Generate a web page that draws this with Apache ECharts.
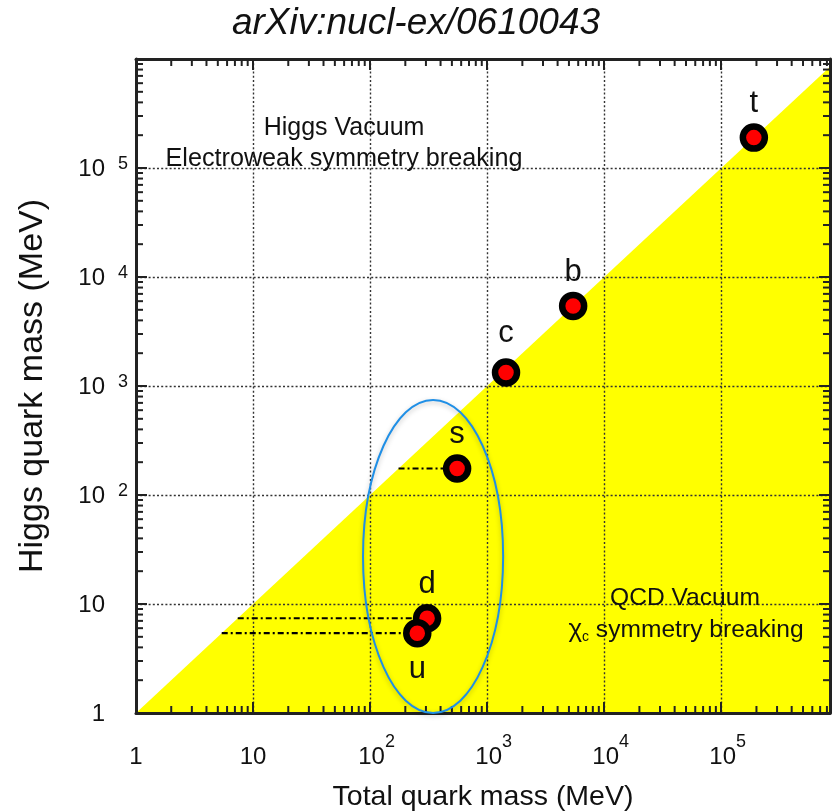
<!DOCTYPE html>
<html>
<head>
<meta charset="utf-8">
<script src="https://cdn.jsdelivr.net/npm/echarts@6/dist/echarts.min.js"></script>
<style>
  html, body { margin: 0; padding: 0; background: #ffffff; }
  #chart { width: 832px; height: 811px; }
</style>
</head>
<body>
<div id="chart"></div>
<script>
// Quark masses in MeV: total mass against the share generated by the Higgs field
const quarkNames = ['t', 'b', 'c', 's', 'd', 'u'];
const totalMass  = [190000, 5430, 1450, 554, 307, 253];
const higgsMass  = [190000, 5430, 1330, 175, 7.4, 5.4];
const labelSide  = ['top', 'top', 'top', 'top', 'top', 'bottom'];

// light quarks get a dash-dot guide from the diagonal out to the point
const guideQuarks = ['s', 'd', 'u'];

// axis extents (log scale)
const xRange = [1, 850000];
const yRange = [1, 1000000];
const minorMultipliers = [2, 3, 4, 5, 6, 7, 8, 9];

// the loop around the light quarks, as a data-space box
const lightQuarkBox = { x: [87, 1370], y: [1, 745] };

const FONT = "'Liberation Sans', Arial, Helvetica, sans-serif";
const INK = '#111111';

function minorValues(range) {
  const out = [];
  for (let p = 1; p <= range[1]; p *= 10) {
    minorMultipliers.forEach(function (m) {
      const v = m * p;
      if (v > range[0] && v < range[1]) out.push(v);
    });
  }
  return out;
}
const minorX = minorValues(xRange);
const minorY = minorValues(yRange);

function isDecade(v) {
  const l = Math.log10(v);
  return Math.abs(l - Math.round(l)) < 1e-6;
}
function powerOf(v) { return Math.round(Math.log10(v)); }

// tick labels: "10" with a raised exponent
const xLabelRich = {
  b: { fontFamily: FONT, fontSize: 24, color: INK, lineHeight: 36, verticalAlign: 'bottom' },
  s: { fontFamily: FONT, fontSize: 18, color: INK, lineHeight: 4, verticalAlign: 'top', align: 'left' },
  p: { width: 13 }
};
const yLabelRich = {
  b: { fontFamily: FONT, fontSize: 24, color: INK, lineHeight: 26, verticalAlign: 'bottom' },
  q: { fontFamily: FONT, fontSize: 18, color: INK, lineHeight: 6, verticalAlign: 'top',
       width: 10, padding: [0, 0, 0, 13], align: 'left' }
};

const TICK_MAJOR = 11;
const TICK_MINOR = 7;
const axisLine = { show: true, lineStyle: { color: '#222', width: 3 } };
const axisTick = { show: true, inside: true, length: TICK_MAJOR, lineStyle: { color: '#222', width: 2 } };
const gridDots = { show: true, lineStyle: { color: '#333', width: 1.4, type: [2, 2.2] } };

function tickStyle() { return { stroke: '#222', lineWidth: 2 }; }

const chart = echarts.init(document.getElementById('chart'), null, { renderer: 'canvas' });

const guideSeries = guideQuarks.map(function (q) {
  const i = quarkNames.indexOf(q);
  return {
    type: 'line',
    name: 'guide-' + q,
    z: 3,
    silent: true,
    symbol: 'none',
    lineStyle: { color: '#000', width: 2.2, type: [6, 3, 2, 3] },
    data: [[higgsMass[i], higgsMass[i]], [totalMass[i], higgsMass[i]]]
  };
});

const option = {
  animation: false,
  backgroundColor: '#ffffff',
  title: {
    text: 'arXiv:nucl-ex/0610043',
    left: 'center',
    top: 0,
    textStyle: { fontFamily: FONT, fontSize: 37, fontStyle: 'italic', fontWeight: 'normal', color: INK }
  },
  grid: { left: 136, right: 2, top: 59, bottom: 98, containLabel: false, outerBoundsMode: 'none' },
  xAxis: [
    {
      type: 'log', logBase: 10, min: xRange[0], max: xRange[1], splitNumber: 6,
      position: 'bottom', z: 1,
      name: 'Total quark mass (MeV)', nameLocation: 'middle', nameGap: 70,
      nameTextStyle: { fontFamily: FONT, fontSize: 28.5, color: INK },
      axisLine: axisLine, axisTick: axisTick, splitLine: gridDots,
      axisLabel: {
        margin: 20,
        showMaxLabel: false,
        formatter: function (v) {
          if (!isDecade(v)) return '';
          const p = powerOf(v);
          if (p === 0) return '{b|1}';
          if (p === 1) return '{b|10}';
          return '{p|}{b|10}{s|' + p + '}';
        },
        rich: xLabelRich
      }
    },
    {
      type: 'log', logBase: 10, min: xRange[0], max: xRange[1], splitNumber: 6,
      position: 'top', z: 1,
      axisLine: axisLine, axisTick: axisTick,
      splitLine: { show: false }, axisLabel: { show: false }
    }
  ],
  yAxis: [
    {
      type: 'log', logBase: 10, min: yRange[0], max: yRange[1], splitNumber: 6,
      position: 'left', z: 1,
      name: 'Higgs quark mass (MeV)', nameLocation: 'middle', nameGap: 86, nameRotate: 90,
      nameTextStyle: { fontFamily: FONT, fontSize: 34, color: INK },
      axisLine: axisLine, axisTick: axisTick, splitLine: gridDots,
      axisLabel: {
        margin: 8,
        formatter: function (v) {
          if (!isDecade(v)) return '';
          const p = powerOf(v);
          if (p >= 6) return '';
          if (p === 0) return '{b|1}{q|}';
          if (p === 1) return '{b|10}{q|}';
          return '{b|10}{q|' + p + '}';
        },
        rich: yLabelRich
      }
    },
    {
      type: 'log', logBase: 10, min: yRange[0], max: yRange[1], splitNumber: 6,
      position: 'right', z: 1,
      axisLine: axisLine, axisTick: axisTick,
      splitLine: { show: false }, axisLabel: { show: false }
    }
  ],
  series: [
    {
      // QCD side of the diagonal (Higgs mass = total mass)
      type: 'line',
      name: 'diagonal',
      z: 0,
      silent: true,
      symbol: 'none',
      lineStyle: { width: 0 },
      areaStyle: { color: '#ffff00', opacity: 1, origin: 'start' },
      data: [[xRange[0], yRange[0]], [xRange[1], xRange[1]]]
    },
    {
      type: 'custom',
      name: 'x-minor-ticks',
      z: 3,
      silent: true,
      clip: false,
      data: minorX.map(function (v) { return [v, yRange[0]]; }),
      renderItem: function (params, api) {
        const v = api.value(0);
        const b = api.coord([v, yRange[0]]);
        const t = api.coord([v, yRange[1]]);
        return {
          type: 'group',
          children: [
            { type: 'line', shape: { x1: b[0], y1: b[1], x2: b[0], y2: b[1] - TICK_MINOR }, style: tickStyle() },
            { type: 'line', shape: { x1: t[0], y1: t[1], x2: t[0], y2: t[1] + TICK_MINOR }, style: tickStyle() }
          ]
        };
      }
    },
    {
      type: 'custom',
      name: 'y-minor-ticks',
      z: 3,
      silent: true,
      clip: false,
      data: minorY.map(function (v) { return [xRange[0], v]; }),
      renderItem: function (params, api) {
        const v = api.value(1);
        const l = api.coord([xRange[0], v]);
        const r = api.coord([xRange[1], v]);
        return {
          type: 'group',
          children: [
            { type: 'line', shape: { x1: l[0], y1: l[1], x2: l[0] + TICK_MINOR, y2: l[1] }, style: tickStyle() },
            { type: 'line', shape: { x1: r[0], y1: r[1], x2: r[0] - TICK_MINOR, y2: r[1] }, style: tickStyle() }
          ]
        };
      }
    }
  ].concat(guideSeries).concat([
    {
      type: 'scatter',
      name: 'quarks',
      z: 5,
      symbol: 'circle',
      symbolSize: 22,
      itemStyle: { color: '#ff0000', borderColor: '#000000', borderWidth: 6.5, opacity: 1 },
      label: {
        show: true,
        formatter: '{b}',
        fontFamily: FONT,
        fontSize: 31,
        color: INK,
        distance: 4
      },
      data: quarkNames.map(function (n, i) {
        const below = labelSide[i] === 'bottom';
        return {
          name: n,
          value: [totalMass[i], higgsMass[i]],
          label: { position: labelSide[i], distance: below ? 7 : (n === 'c' ? 9 : 4) }
        };
      })
    }
  ]),
  graphic: [
    {
      type: 'text', silent: true, z: 10,
      x: 344, y: 128,
      style: { text: 'Higgs Vacuum', fontFamily: FONT, fontSize: 25, fill: INK, textAlign: 'center', textVerticalAlign: 'middle' }
    },
    {
      type: 'text', silent: true, z: 10,
      x: 344, y: 159,
      style: { text: 'Electroweak symmetry breaking', fontFamily: FONT, fontSize: 25.2, fill: INK, textAlign: 'center', textVerticalAlign: 'middle' }
    },
    {
      type: 'text', silent: true, z: 10,
      x: 685, y: 598,
      style: { text: 'QCD Vacuum', fontFamily: FONT, fontSize: 24.6, fill: INK, textAlign: 'center', textVerticalAlign: 'middle' }
    },
    {
      type: 'text', silent: true, z: 10,
      x: 686, y: 630,
      style: {
        text: '{g|χ}{c|c}{t| symmetry breaking}',
        textAlign: 'center', textVerticalAlign: 'middle',
        rich: {
          g: { fontFamily: FONT, fontSize: 26, fill: INK, lineHeight: 28, verticalAlign: 'middle' },
          c: { fontFamily: FONT, fontSize: 14, fill: INK, lineHeight: 12, verticalAlign: 'bottom' },
          t: { fontFamily: FONT, fontSize: 24.6, fill: INK, lineHeight: 28, verticalAlign: 'middle' }
        }
      }
    }
  ]
};

chart.setOption(option);

// loop around u, d, s placed from its data-space box
const p0 = chart.convertToPixel({ gridIndex: 0 }, [lightQuarkBox.x[0], lightQuarkBox.y[1]]);
const p1 = chart.convertToPixel({ gridIndex: 0 }, [lightQuarkBox.x[1], lightQuarkBox.y[0]]);
chart.setOption({
  graphic: [{
    type: 'ellipse',
    id: 'lightLoop',
    silent: true,
    z: 20,
    shape: {
      cx: (p0[0] + p1[0]) / 2,
      cy: (p0[1] + p1[1]) / 2,
      rx: Math.abs(p1[0] - p0[0]) / 2,
      ry: Math.abs(p1[1] - p0[1]) / 2
    },
    style: {
      fill: 'none',
      stroke: '#1f8fe6',
      lineWidth: 2,
      shadowColor: 'rgba(0,0,0,0.25)',
      shadowBlur: 5,
      shadowOffsetY: 2
    }
  }]
});
</script>
</body>
</html>
